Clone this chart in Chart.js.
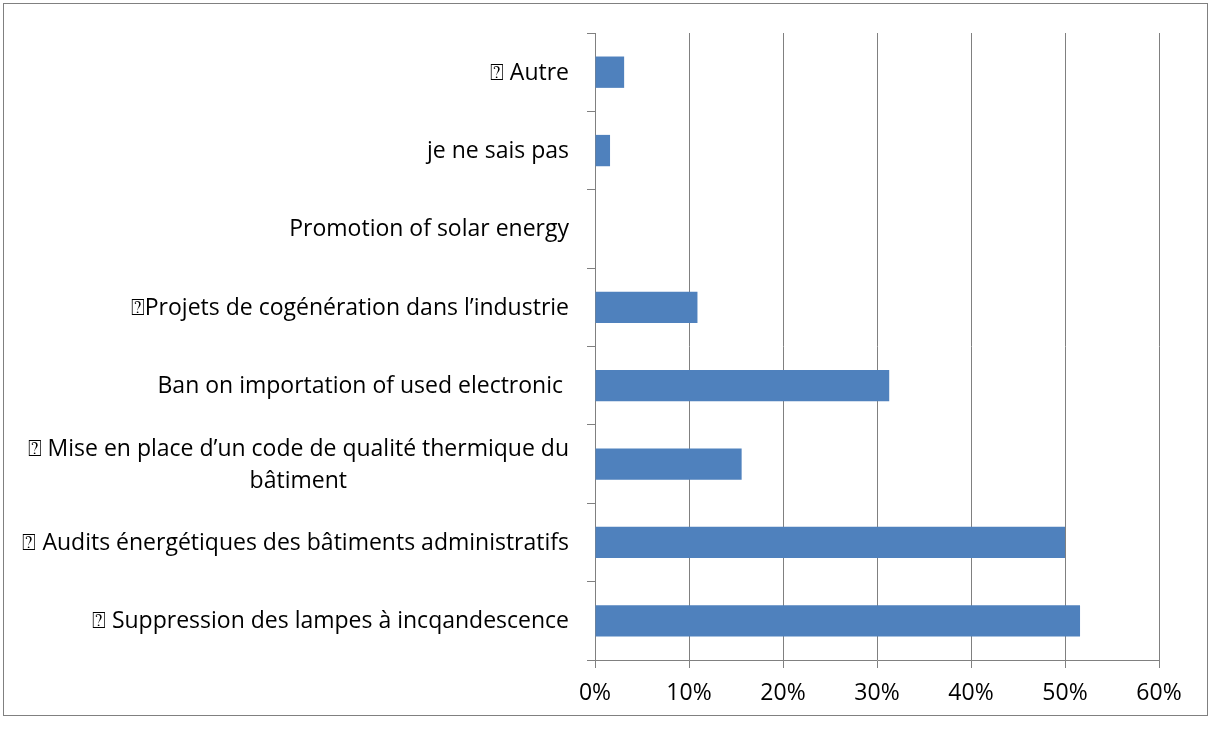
<!DOCTYPE html>
<html>
<head>
<meta charset="utf-8">
<script src="https://cdn.jsdelivr.net/npm/chart.js@4.4.1/dist/chart.umd.min.js"></script>
<style>
  html, body { margin: 0; padding: 0; background: #fff; }
  #wrap { width: 1212px; height: 729px; }
</style>
</head>
<body>
<div id="wrap"><canvas id="chart"></canvas></div>
<script>
const BOX = '\u2370';

const categories = [
    [BOX + ' Autre'],
    ['je ne sais pas'],
    ['Promotion of solar energy'],
    [BOX + 'Projets de cogénération dans l\u2019industrie'],
    ['Ban on importation of used electronic '],
    [BOX + ' Mise en place d\u2019un code de qualité thermique du', 'bâtiment'],
    [BOX + ' Audits énergétiques des bâtiments administratifs'],
    [BOX + ' Suppression des lampes à incqandescence']
];
const shares = [3.1, 1.6, 0, 10.9, 31.3, 15.6, 50, 51.6];
const xTicks = [0, 10, 20, 30, 40, 50, 60];

const FONT = '"Open Sans"';
const FONT_SIZE = 23;
const GRAY = '#808080';

// Excel-ish frame around the whole chart
const framePlugin = {
    id: 'frame',
    beforeDraw(chart) {
        const ctx = chart.ctx;
        ctx.save();
        ctx.fillStyle = '#fff';
        ctx.fillRect(0, 0, chart.width, chart.height);
        ctx.strokeStyle = GRAY;
        ctx.lineWidth = 1;
        ctx.strokeRect(3.5, 3.5, 1204, 712);
        ctx.restore();
    }
};

// category labels: right aligned block, lines centered inside the block
const labelPlugin = {
    id: 'labels',
    afterDraw(chart) {
        const ctx = chart.ctx;
        const y = chart.scales.y;
        const right = y.right - 26;
        const lineH = 32;
        ctx.save();
        ctx.font = FONT_SIZE + 'px ' + FONT;
        ctx.fillStyle = '#000';
        ctx.textBaseline = 'middle';
        ctx.textAlign = 'center';
        categories.forEach((lines, i) => {
            const cy = y.getPixelForValue(i) + 1;
            const w = Math.max(...lines.map(l => ctx.measureText(l).width));
            const cx = right - w / 2;
            const top = cy - (lines.length - 1) * lineH / 2;
            lines.forEach((l, j) => ctx.fillText(l, cx, top + j * lineH));
        });
        ctx.restore();
    }
};

new Chart(document.getElementById('chart'), {
    type: 'bar',
    data: {
        labels: categories.map(c => c.join(' ')),
        datasets: [{
            data: shares,
            backgroundColor: '#4F81BD',
            borderWidth: 0,
            barPercentage: 0.4,
            categoryPercentage: 1
        }]
    },
    options: {
        indexAxis: 'y',
        responsive: true,
        maintainAspectRatio: false,
        animation: false,
        layout: { padding: { top: 33, right: 53, bottom: 0, left: 0 } },
        plugins: {
            legend: { display: false },
            tooltip: { enabled: false }
        },
        scales: {
            x: {
                min: 0,
                max: 60,
                afterBuildTicks(scale) {
                    scale.ticks = xTicks.map(v => ({ value: v }));
                },
                afterFit(scale) { scale.height = 69; },
                grid: { color: GRAY, lineWidth: 1, tickLength: 8, drawOnChartArea: true },
                border: { color: GRAY, width: 1 },
                ticks: {
                    color: '#000',
                    padding: 12,
                    font: { family: FONT, size: FONT_SIZE },
                    callback: v => v + '%'
                }
            },
            y: {
                offset: true,
                afterFit(scale) { scale.width = 595; },
                grid: { offset: true, drawOnChartArea: false, color: GRAY, tickLength: 8 },
                border: { color: GRAY, width: 1 },
                ticks: { color: 'rgba(0,0,0,0)', font: { family: FONT, size: FONT_SIZE } }
            }
        }
    },
    plugins: [framePlugin, labelPlugin]
});
</script>
</body>
</html>
